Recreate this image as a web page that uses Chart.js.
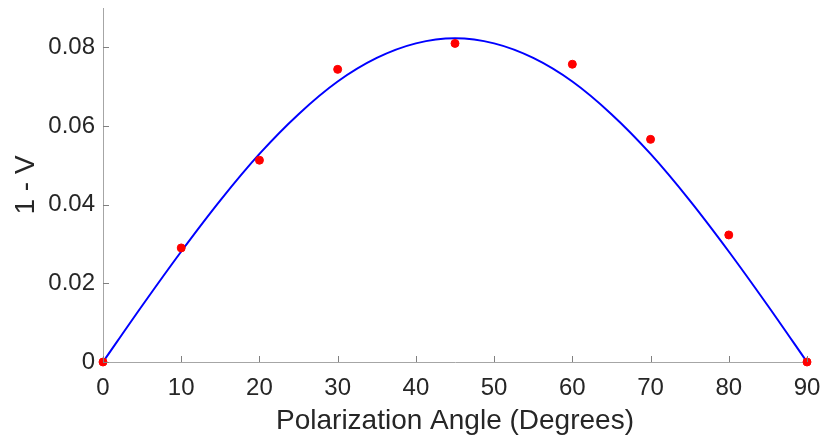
<!DOCTYPE html>
<html lang="en">

<head>
  <meta charset="UTF-8">
  <title>1 - V vs Polarization Angle</title>
  <script src="https://cdn.jsdelivr.net/npm/chart.js"></script>
  <style>
    html, body { margin: 0; padding: 0; background: #fff; }
    #wrap { width: 828px; height: 443px; }
  </style>
</head>

<body>
  <div id="wrap"><canvas id="visibilityChart"></canvas></div>
  <script>
    // Measured points
    const angles = [0, 10, 20, 30, 45, 60, 70, 80, 90];
    const oneMinusV = [0, 0.0290, 0.0513, 0.0744, 0.0810, 0.0757, 0.0566, 0.0323, 0];

    // Fitted curve, sampled every 5 degrees
    const fitAngles = [0, 5, 10, 15, 20, 25, 30, 35, 40, 45, 50, 55, 60, 65, 70, 75, 80, 85, 90];
    const fitValues = [0, 0.0143, 0.0281, 0.0411, 0.0529, 0.0630, 0.0713, 0.0773, 0.0810, 0.0823,
      0.0810, 0.0773, 0.0713, 0.0630, 0.0529, 0.0411, 0.0281, 0.0143, 0];

    const xTicks = [0, 10, 20, 30, 40, 50, 60, 70, 80, 90];
    const yTicks = [0, 0.02, 0.04, 0.06, 0.08];

    const textColor = '#262626';
    const axisColor = '#a6a6a6';
    const tickColor = '#808080';
    const fontFamily = "'Liberation Sans', Arial, sans-serif";

    // draw short inward tick marks along both axes
    const innerTicks = {
      id: 'innerTicks',
      afterDraw(chart) {
        const ctx = chart.ctx;
        const xs = chart.scales.x;
        const ys = chart.scales.y;
        const len = 6;
        ctx.save();
        ctx.strokeStyle = tickColor;
        ctx.lineWidth = 1;
        ctx.beginPath();
        xTicks.forEach(v => {
          const px = Math.round(xs.getPixelForValue(v)) + 0.5;
          ctx.moveTo(px, ys.bottom);
          ctx.lineTo(px, ys.bottom - len);
        });
        yTicks.forEach(v => {
          const py = Math.round(ys.getPixelForValue(v)) + 0.5;
          ctx.moveTo(xs.left, py);
          ctx.lineTo(xs.left + len, py);
        });
        ctx.stroke();
        ctx.restore();
      }
    };

    const ctx = document.getElementById('visibilityChart').getContext('2d');
    new Chart(ctx, {
      type: 'scatter',
      data: {
        datasets: [{
            label: 'Fit',
            data: fitAngles.map((a, i) => ({ x: a, y: fitValues[i] })),
            showLine: true,
            borderColor: '#0000ff',
            borderWidth: 2,
            pointRadius: 0,
            cubicInterpolationMode: 'monotone',
            order: 2
          },
          {
            label: 'Data',
            data: angles.map((a, i) => ({ x: a, y: oneMinusV[i] })),
            showLine: false,
            backgroundColor: '#ff0000',
            borderColor: '#ff0000',
            pointRadius: 4,
            order: 1
          }
        ]
      },
      options: {
        responsive: true,
        maintainAspectRatio: false,
        animation: false,
        clip: false,
        layout: {
          padding: { top: 8, right: 21, left: 0, bottom: 0 }
        },
        plugins: {
          legend: { display: false },
          tooltip: { enabled: false }
        },
        scales: {
          x: {
            type: 'linear',
            min: 0,
            max: 90,
            afterBuildTicks: scale => { scale.ticks = xTicks.map(v => ({ value: v })); },
            afterFit: scale => {
              scale.height = 81;
              scale.paddingLeft = 0;
              scale.paddingRight = 0;
            },
            grid: { drawOnChartArea: false, drawTicks: false },
            border: { display: true, color: axisColor, width: 1 },
            ticks: {
              color: textColor,
              padding: 12,
              maxRotation: 0,
              font: { family: fontFamily, size: 24 }
            },
            title: {
              display: true,
              text: 'Polarization Angle (Degrees)',
              color: textColor,
              padding: { top: 0, bottom: 5 },
              font: { family: fontFamily, size: 28 }
            }
          },
          y: {
            type: 'linear',
            min: 0,
            max: 0.09,
            afterBuildTicks: scale => { scale.ticks = yTicks.map(v => ({ value: v })); },
            afterFit: scale => {
              scale.width = 103;
              scale.paddingTop = 0;
              scale.paddingBottom = 0;
            },
            grid: { drawOnChartArea: false, drawTicks: false },
            border: { display: true, color: axisColor, width: 1 },
            ticks: {
              color: textColor,
              padding: 8,
              font: { family: fontFamily, size: 24 },
              callback: v => (v === 0 ? '0' : v.toFixed(2))
            },
            title: {
              display: true,
              text: '1 - V',
              color: textColor,
              padding: { top: 9, bottom: 0 },
              font: { family: fontFamily, size: 28 }
            }
          }
        }
      },
      plugins: [innerTicks]
    });
  </script>
</body>

</html>
